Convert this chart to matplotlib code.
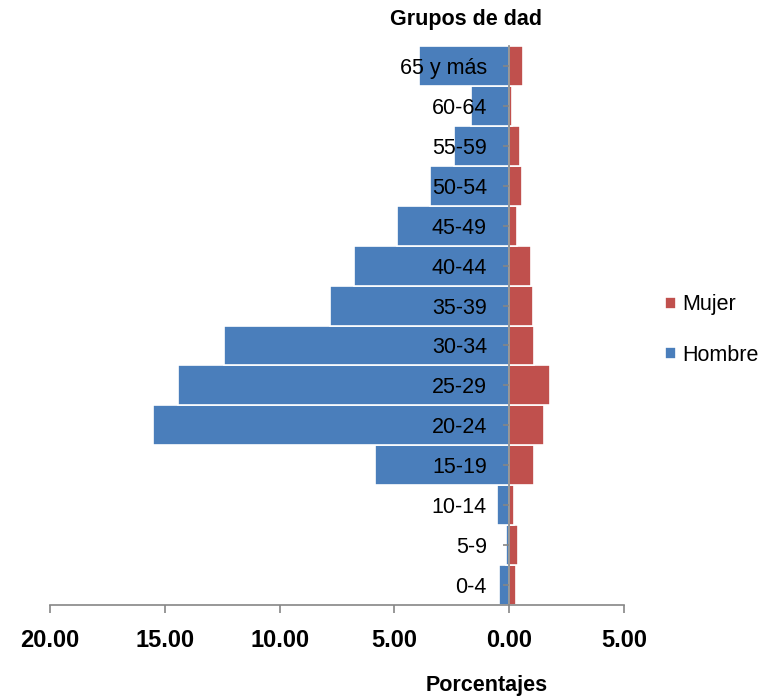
import numpy as np
import matplotlib
matplotlib.use('Agg')
import matplotlib.pyplot as plt
from matplotlib.ticker import FuncFormatter

# grupos de edad, de abajo hacia arriba
grupos = ['0-4', '5-9', '10-14', '15-19', '20-24', '25-29', '30-34',
          '35-39', '40-44', '45-49', '50-54', '55-59', '60-64', '65 y más']
# porcentajes
hombre = [0.44, 0.13, 0.52, 5.84, 15.51, 14.44, 12.42,
          7.80, 6.74, 4.87, 3.47, 2.40, 1.67, 3.95]
mujer = [0.29, 0.38, 0.19, 1.10, 1.53, 1.76, 1.10,
         1.02, 0.94, 0.36, 0.54, 0.45, 0.13, 0.62]
xticks = [-20, -15, -10, -5, 0, 5]

AZUL = '#4A7EBB'
ROJO = '#C0504D'
GRIS = '#868686'

plt.rcParams['font.family'] = ['Liberation Sans', 'DejaVu Sans']

fig = plt.figure(figsize=(7.76, 6.99), dpi=100)
ax = fig.add_axes([50 / 776, 1 - 605 / 699, 574 / 776, 559 / 699])

y = np.arange(len(grupos))
ax.barh(y, -np.array(hombre), height=1.0, color=AZUL, edgecolor='white',
        linewidth=1.2, label='Hombre')
ax.barh(y, mujer, height=1.0, color=ROJO, edgecolor='white',
        linewidth=1.2, label='Mujer')

ax.set_xlim(-20, 5)
ax.set_ylim(-0.5, len(grupos) - 0.5)

# eje vertical en cero
ax.spines['left'].set_position(('data', 0))
ax.spines['left'].set_color(GRIS)
ax.spines['bottom'].set_color(GRIS)
ax.spines['left'].set_linewidth(1.2)
ax.spines['bottom'].set_linewidth(1.2)
ax.spines['top'].set_visible(False)
ax.spines['right'].set_visible(False)

ax.set_yticks(y)
ax.set_yticklabels(grupos)
ax.tick_params(axis='y', direction='out', length=4, width=1.2, color=GRIS,
               labelsize=15.5, pad=12)
ax.set_xticks(xticks)
ax.xaxis.set_major_formatter(FuncFormatter(lambda v, p: f'{abs(v):.2f}'))
ax.tick_params(axis='x', direction='out', length=6, width=1.2, color=GRIS,
               labelsize=17, pad=11)
for lbl in ax.get_xticklabels():
    lbl.set_fontweight('bold')

handles, labels = ax.get_legend_handles_labels()
fig.legend(handles[::-1], labels[::-1], loc='center left',
           bbox_to_anchor=(646 / 776, 1 - 330 / 699), frameon=False,
           fontsize=15.5, handlelength=0.5, handleheight=0.5,
           handletextpad=0.3, labelspacing=1.35)

fig.text(466 / 776, 1 - 20 / 699, 'Grupos de dad', ha='center', va='center',
         fontsize=15.5, fontweight='bold')
fig.text(487 / 776, 1 - 686 / 699, 'Porcentajes', ha='center', va='center',
         fontsize=15.5, fontweight='bold')

fig.savefig('out.png', dpi=100)
